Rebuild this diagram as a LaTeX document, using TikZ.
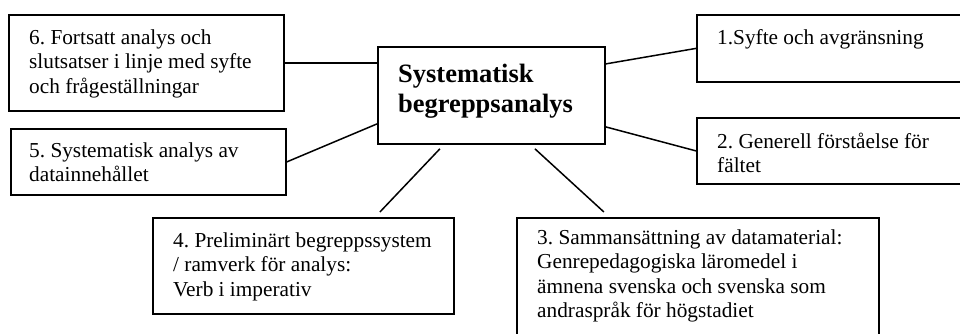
\documentclass[tikz,border=0pt]{standalone}
\usepackage{fontspec}
\setmainfont{Liberation Serif}
\frenchspacing
\begin{document}
\begin{tikzpicture}[x=1pt,y=-1pt,
  box/.style={draw=black, line width=1.8pt, anchor=north west, inner sep=0pt, fill=white},
  txt/.style={anchor=base west, inner sep=0pt, align=left, font=\fontsize{21.3pt}{24.5pt}\selectfont},
  ctxt/.style={anchor=base west, inner sep=0pt, align=left, font=\fontsize{26.5pt}{30pt}\selectfont\bfseries},
  conn/.style={draw=black, line width=1.5pt}]
\useasboundingbox (0,0) rectangle (960,333);
\clip (0,0) rectangle (960,333);
% boxes
\node[box, minimum width=275pt, minimum height=96pt] (b6) at (8,14) {};
\node[box, minimum width=275pt, minimum height=66pt] (b5) at (10,128) {};
\node[box, minimum width=227pt, minimum height=97pt] (c) at (377,46) {};
\node[box, minimum width=304pt, minimum height=67pt] (b1) at (696,14) {};
\node[box, minimum width=304pt, minimum height=66pt] (b2) at (696,117) {};
\node[box, minimum width=301pt, minimum height=96pt] (b4) at (152,217) {};
\node[box, minimum width=362pt, minimum height=143pt] (b3) at (516,217) {};
% texts (anchor = baseline of the last line)
\node[txt] (t6) at (29,93) {6. Fortsatt analys och\\slutsatser i linje med syfte\\och frågeställningar};
\node[txt] (t5) at (29,181.5) {5. Systematisk analys av\\datainnehållet};
\node[ctxt] (tc) at (398,112) {Systematisk\\begreppsanalys};
\node[txt] (t1) at (717,44) {1.Syfte och avgränsning};
\node[txt] (t2) at (717,172.5) {2. Generell förståelse för\\fältet};
\node[txt] (t4) at (173,296) {4. Preliminärt begreppssystem\\/ ramverk för analys:\\Verb i imperativ};
\node[txt] (t3) at (537,317.5) {3. Sammansättning av datamaterial:\\Genrepedagogiska läromedel i\\ämnena svenska och svenska som\\andraspråk för högstadiet};
% connectors
\draw[conn] (b6.east) -- (b6.east -| c.west);
\draw[conn] (b5.east) -- ([yshift=-28.5pt]c.west);
\draw[conn] ([yshift=31.5pt]c.east) -- (b1.west);
\draw[conn] ([yshift=-31.5pt]c.east) -- (b2.west);
\draw[conn] ([shift={(-51.5pt,-4pt)}]c.south) -- ([shift={(76.5pt,5pt)}]b4.north);
\draw[conn] ([shift={(43.5pt,-4pt)}]c.south) -- ([shift={(-94pt,5pt)}]b3.north);
\end{tikzpicture}
\end{document}
